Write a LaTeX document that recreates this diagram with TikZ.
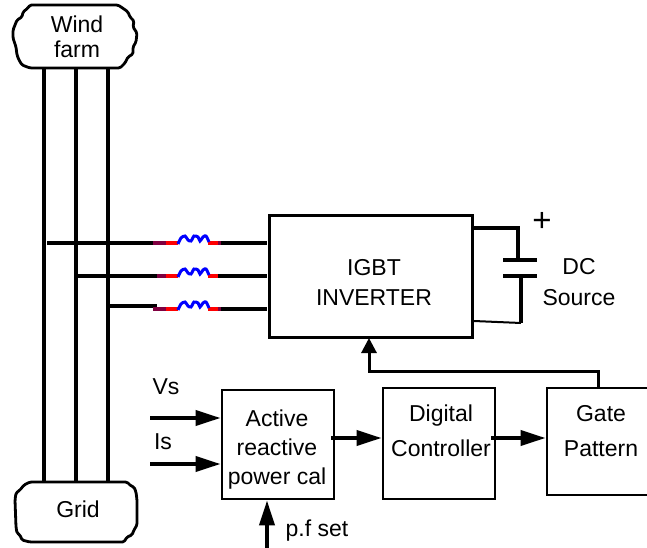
\documentclass[tikz,border=0pt]{standalone}
\usepackage{fontspec}
\setmainfont{Liberation Sans}
\usetikzlibrary{arrows.meta}
\definecolor{reactorpurple}{RGB}{128,0,64}
\tikzset{
  blockbox/.style={draw,line width=2.8pt,minimum width=#1,inner sep=0pt},
  blocktext/.style={align=center,font=\fontsize{23}{#1}\selectfont,inner sep=0pt},
  blocktext/.default=33,
  outline/.style={line width=2.8pt,line join=round,rounded corners=1.5pt},
  anchorbox/.style={minimum width=#1,inner sep=0pt},
  busline/.style={line width=3.6pt},
  feedline/.style={line width=3.6pt},
  sigarrow/.style={line width=3.8pt,-{Triangle[length=25pt,width=15pt]}},
}
\begin{document}
\begin{tikzpicture}[x=1pt,y=-1pt]
\useasboundingbox (0,0) rectangle (647,548);

% end blocks and bus
\node[anchorbox=124pt,minimum height=63pt,outer sep=0pt] (wind) at (75,36.5) {};
\draw[outline] (30,5) -- (118,5) -- (124,9) -- (128,12) -- (130,17) -- (134,21) -- (133,27) -- (137,33)
  -- (136,42) -- (133,47) -- (133,54) -- (128,57) -- (125,63) -- (120,68) -- (30,68) -- (22,65) -- (19,60)
  -- (17,55) -- (16,47) -- (13,38) -- (13,30) -- (15,25) -- (17,20) -- (22,17) -- (23,12) -- (28,8) -- cycle;
\node[blocktext=25] (windname) at (77,36.5) {Wind\\farm};
\node[anchorbox=122pt,minimum height=60pt,outer sep=0pt] (grid) at (76,512) {};
\draw[outline] (30,482) -- (127,482) -- (131,486) -- (134,487) -- (136,492) -- (137,500) -- (137,525) -- (134,530)
  -- (132,535) -- (127,537) -- (124,542) -- (30,542) -- (22,540) -- (20,535) -- (17,533) -- (16,527) -- (15,500)
  -- (16,493) -- (20,490) -- (24,485) -- cycle;
\node[blocktext] (gridname) at (78,509) {Grid};
\coordinate (busa) at (44,0);
\coordinate (busb) at (76,0);
\coordinate (busc) at (108,0);
\foreach \bus in {busa,busb,busc}
  \draw[busline] (\bus |- wind.south) -- (\bus |- grid.north);

% blocks
\node[blockbox=203pt,minimum height=122pt] (igbt) at (371,276.5) {};
\node[blocktext=30] (igbtname) at (374,282) {IGBT\\INVERTER};
\node[blockbox=112pt,minimum height=109pt] (active) at (278,444.5) {};
\node[blocktext=29] (activename) at (277,450) {Active\\reactive\\power cal};
\node[blockbox=112pt,minimum height=111pt] (digital) at (439,443.5) {};
\node[blocktext=35] (digitalname) at (441,431) {Digital\\Controller};
\node[blockbox=101pt,minimum height=107pt] (gate) at (597.5,441.5) {};
\node[blocktext=35] (gatename) at (601,431) {Gate\\Pattern};

% feeders with reactors
\foreach \ly/\lx/\ls in {243/47/153,276/76/157}
  \draw[feedline] (\lx,\ly) -- (\ls,\ly);
\draw[feedline] (108,306) -- (157,306);
\foreach \ly/\ls/\le in {243/153/221,276/157/218,309/153/221} {
  \draw[feedline,reactorpurple] (\ls,\ly) -- (166,\ly);
  \draw[feedline,reactorpurple] (218,\ly) -- (\le,\ly);
  \draw[feedline,red] (166,\ly) -- (178,\ly);
  \draw[feedline,red] (208,\ly) -- (218,\ly);
  \draw[line width=3pt,blue,shift={(178,\ly)}] plot[smooth] coordinates
    {(0,1) (3,-5) (7,-7) (10,-3) (13,-2) (16,-7) (20,-6) (22,-2) (25,-6) (28,-7) (31,-1)};
  \draw[feedline] (\le,\ly) -- (267,\ly);
}

% dc side
\coordinate (plus) at (518,228);
\coordinate (capa) at (518,260);
\coordinate (capb) at (521,276);
\coordinate (capc) at (521,323);
\draw[line width=3.2pt] (igbt.east |- plus) -- (plus) -- (capa);
\draw[line width=3.6pt] (capb) -- (capc);
\draw[line width=2pt] (igbt.east |- 0,321) -- (capc);
\draw[line width=3.8pt] (503,260) -- (537,260);
\draw[line width=3.8pt] (503,276) -- (537,276);
\node[blocktext,font=\fontsize{33}{33}\selectfont] (plussign) at (542,221.5) {+};
\node[blocktext=31] (dcname) at (579,282) {DC\\Source};

% signals
\coordinate (vsin) at (150,418);
\coordinate (isin) at (150,464);
\coordinate (pfin) at (267,548);
\coordinate (activeout) at (331,438);
\coordinate (digitalout) at (491,438);
\coordinate (gateup) at (598,371);
\draw[sigarrow] (vsin) -- (active.west |- vsin);
\draw[sigarrow] (isin) -- (active.west |- isin);
\draw[sigarrow] (pfin) -- (pfin |- active.south);
\draw[sigarrow] (activeout) -- (digital.west |- activeout);
\draw[sigarrow] (digitalout) -- (gate.west |- digitalout);
\draw[line width=3pt,-{Triangle[length=15pt,width=15pt]}] (gateup |- gate.north) -- (gateup) -- (369,371) -- (369,338);
\node[blocktext] (vsname) at (166,387) {Vs};
\node[blocktext] (isname) at (163,442) {Is};
\node[blocktext] (pfname) at (317,531) {p.f set};
\end{tikzpicture}
\end{document}
